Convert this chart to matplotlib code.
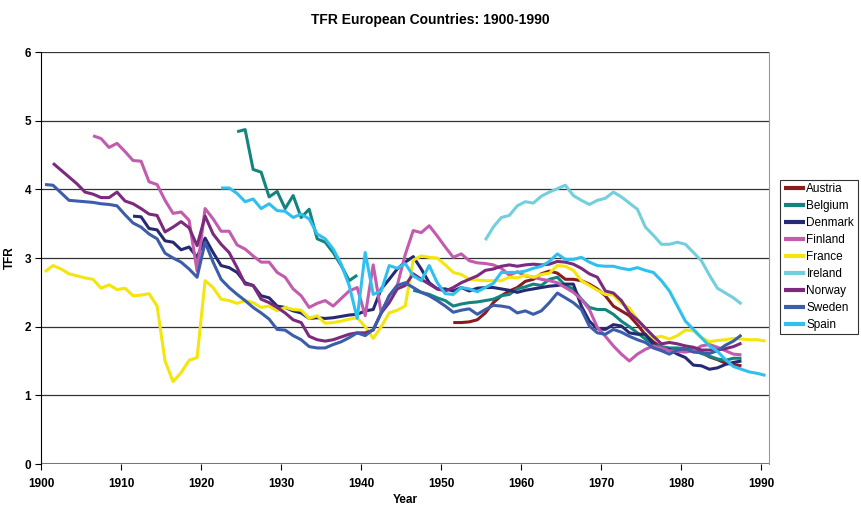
import matplotlib
matplotlib.use("Agg")
import matplotlib.pyplot as plt
import numpy as np

# TFR per country, one value per year starting at the given start year
austria_start = 1951
austria = [2.06, 2.06, 2.07, 2.10, 2.20, 2.35, 2.45, 2.52, 2.57, 2.66,
           2.69, 2.77, 2.81, 2.78, 2.69, 2.69, 2.67, 2.62, 2.55, 2.45,
           2.30, 2.23, 2.16, 2.03, 1.88, 1.78, 1.70, 1.68, 1.66, 1.66,
           1.66, 1.63, 1.56, 1.52, 1.47, 1.45, 1.43]

belgium_start = 1924
belgium = [4.84, 4.87, 4.29, 4.25, 3.89, 3.97, 3.72, 3.91, 3.59, 3.71,
           3.28, 3.23, 3.08, 2.89, 2.67, 2.75,
           None, None, None, None, None, None,
           2.53, 2.50, 2.47, 2.42, 2.38, 2.30, 2.33, 2.35, 2.36, 2.38,
           2.40, 2.45, 2.47, 2.55, 2.58, 2.62, 2.60, 2.69, 2.72, 2.60,
           2.55, 2.40, 2.28, 2.25, 2.25, 2.18, 2.08, 2.00, 1.91, 1.82,
           1.74, 1.71, 1.69, 1.69, 1.68, 1.66, 1.61, 1.57, 1.53, 1.51,
           1.54, 1.54]

denmark_start = 1911
denmark = [3.61, 3.60, 3.43, 3.41, 3.25, 3.23, 3.12, 3.16, 3.01, 3.29,
           3.08, 2.89, 2.86, 2.79, 2.64, 2.60, 2.45, 2.42, 2.30, 2.28,
           2.23, 2.20, 2.12, 2.13, 2.12, 2.13, 2.15, 2.17, 2.18, 2.23,
           2.25, 2.55, 2.69, 2.84, 2.94, 3.02, 2.84, 2.64, 2.55, 2.55,
           2.52, 2.57, 2.52, 2.56, 2.57, 2.57, 2.55, 2.53, 2.50, 2.53,
           2.55, 2.57, 2.59, 2.60, 2.62, 2.62, 2.30, 2.08, 1.97, 1.96,
           2.03, 2.01, 1.91, 1.89, 1.89, 1.75, 1.66, 1.67, 1.60, 1.55,
           1.44, 1.43, 1.38, 1.40, 1.45, 1.48, 1.50]

finland_start = 1906
finland = [4.78, 4.74, 4.61, 4.67, 4.55, 4.42, 4.41, 4.11, 4.07, 3.84,
           3.65, 3.67, 3.55, 2.81, 3.72, 3.57, 3.39, 3.39, 3.19, 3.13,
           3.03, 2.94, 2.94, 2.79, 2.72, 2.55, 2.45, 2.28, 2.34, 2.38,
           2.30, 2.41, 2.52, 2.57, 2.16, 2.90, 2.20, 2.45, 2.60, 3.05,
           3.40, 3.37, 3.47, 3.32, 3.16, 3.01, 3.06, 2.96, 2.93, 2.92,
           2.90, 2.85, 2.75, 2.80, 2.74, 2.72, 2.69, 2.67, 2.64, 2.57,
           2.50, 2.40, 2.25, 1.99, 1.86, 1.72, 1.60, 1.50, 1.60, 1.67,
           1.72, 1.69, 1.65, 1.64, 1.63, 1.65, 1.72, 1.74, 1.70, 1.65,
           1.60, 1.59]

france_start = 1900
france = [2.80, 2.89, 2.84, 2.77, 2.74, 2.71, 2.69, 2.56, 2.61, 2.54,
          2.56, 2.45, 2.46, 2.48, 2.30, 1.50, 1.20, 1.33, 1.51, 1.55,
          2.67, 2.57, 2.40, 2.38, 2.34, 2.38, 2.35, 2.28, 2.30, 2.23,
          2.28, 2.25, 2.24, 2.12, 2.16, 2.05, 2.06, 2.08, 2.11, 2.13,
          2.00, 1.83, 2.00, 2.20, 2.24, 2.30, 2.97, 3.03, 3.01, 3.00,
          2.90, 2.79, 2.76, 2.69, 2.68, 2.67, 2.67, 2.67, 2.72, 2.71,
          2.75, 2.72, 2.76, 2.78, 2.89, 2.88, 2.82, 2.67, 2.60, 2.53,
          2.47, 2.46, 2.34, 2.27, 2.10, 1.97, 1.84, 1.86, 1.82, 1.87,
          1.95, 1.94, 1.84, 1.78, 1.80, 1.81, 1.83, 1.82, 1.81, 1.81,
          1.79]

ireland_start = 1955
ireland = [3.26, 3.45, 3.59, 3.62, 3.76, 3.82, 3.80, 3.90, 3.96, 4.01,
           4.06, 3.91, 3.84, 3.78, 3.84, 3.87, 3.96, 3.89, 3.80, 3.71,
           3.45, 3.33, 3.20, 3.20, 3.23, 3.20, 3.08, 2.96, 2.75, 2.56,
           2.49, 2.42, 2.33]

norway_start = 1901
norway = [4.38, 4.28, 4.18, 4.08, 3.96, 3.93, 3.88, 3.88, 3.96, 3.83,
          3.79, 3.72, 3.64, 3.62, 3.38, 3.45, 3.53, 3.44, 3.18, 3.61,
          3.35, 3.20, 3.08, 2.86, 2.62, 2.60, 2.40, 2.35, 2.28, 2.20,
          2.10, 2.06, 1.86, 1.81, 1.79, 1.81, 1.85, 1.89, 1.91, 1.91,
          1.95, 2.20, 2.35, 2.55, 2.60, 2.77, 2.69, 2.62, 2.55, 2.52,
          2.57, 2.64, 2.69, 2.74, 2.82, 2.84, 2.88, 2.90, 2.88, 2.90,
          2.91, 2.90, 2.91, 2.95, 2.94, 2.91, 2.85, 2.77, 2.72, 2.52,
          2.49, 2.38, 2.20, 2.10, 1.98, 1.86, 1.75, 1.77, 1.75, 1.72,
          1.70, 1.66, 1.66, 1.66, 1.68, 1.71, 1.76]

sweden_start = 1900
sweden = [4.07, 4.06, 3.95, 3.84, 3.83, 3.82, 3.81, 3.79, 3.78, 3.76,
          3.63, 3.51, 3.45, 3.35, 3.28, 3.07, 3.00, 2.94, 2.84, 2.72,
          3.23, 2.94, 2.69, 2.57, 2.47, 2.38, 2.28, 2.20, 2.11, 1.96,
          1.95, 1.87, 1.81, 1.71, 1.69, 1.69, 1.74, 1.78, 1.84, 1.91,
          1.87, 1.96, 2.20, 2.45, 2.60, 2.64, 2.57, 2.50, 2.45, 2.38,
          2.30, 2.21, 2.24, 2.26, 2.18, 2.25, 2.31, 2.30, 2.28, 2.20,
          2.23, 2.18, 2.23, 2.35, 2.49, 2.42, 2.35, 2.25, 2.01, 1.91,
          1.89, 1.96, 1.92, 1.86, 1.81, 1.77, 1.69, 1.65, 1.60, 1.66,
          1.68, 1.63, 1.62, 1.61, 1.65, 1.73, 1.79, 1.88]

spain_start = 1922
spain = [4.02, 4.02, 3.94, 3.82, 3.86, 3.72, 3.79, 3.69, 3.68, 3.59,
         3.64, 3.57, 3.35, 3.28, 3.13, 2.91, 2.60, 2.12, 3.08, 2.47,
         2.52, 2.89, 2.85, 2.92, 2.74, 2.67, 2.89, 2.64, 2.48, 2.47,
         2.57, 2.55, 2.51, 2.57, 2.63, 2.79, 2.79, 2.79, 2.81, 2.85,
         2.88, 2.95, 3.06, 2.98, 2.98, 3.01, 2.94, 2.89, 2.88, 2.88,
         2.85, 2.83, 2.86, 2.82, 2.79, 2.67, 2.52, 2.30, 2.08, 1.96,
         1.84, 1.72, 1.64, 1.52, 1.42, 1.38, 1.34, 1.32, 1.29]

countries = ["Austria", "Belgium", "Denmark", "Finland", "France",
             "Ireland", "Norway", "Sweden", "Spain"]
series = [(austria_start, austria), (belgium_start, belgium),
          (denmark_start, denmark), (finland_start, finland),
          (france_start, france), (ireland_start, ireland),
          (norway_start, norway), (sweden_start, sweden),
          (spain_start, spain)]
colors = ["#8B1C1E", "#14857E", "#262A73", "#C35BAE", "#F4E60C",
          "#72CFDD", "#7B2A7E", "#3B5DAA", "#30C0EF"]

plt.rcParams["font.family"] = ["Liberation Sans Narrow", "Liberation Sans", "DejaVu Sans"]

fig = plt.figure(figsize=(8.61, 5.08), dpi=100)
ax = fig.add_axes([0.0476, 0.0866, 0.8461, 0.811])

for name, (start, vals), col in zip(countries, series, colors):
    y = np.array([np.nan if v is None else v for v in vals], dtype=float)
    # points sit at mid-year, as in the original chart
    x = np.arange(start, start + len(y)) + 0.5
    ax.plot(x, y, color=col, lw=2.2, label=name, solid_capstyle="butt")

ax.set_xlim(1900, 1991)
ax.set_ylim(0, 6)
ax.set_xticks(range(1900, 1991, 10))
ax.set_yticks(range(0, 7))
for v in range(1, 7):
    ax.axhline(v, color="#333333", lw=0.9, zorder=0)
ax.axhline(0, color="#777777", lw=2.2, zorder=0)

ax.spines["top"].set_visible(False)
ax.spines["right"].set_color("#999999")
ax.spines["left"].set_color("black")
ax.spines["bottom"].set_visible(False)
ax.tick_params(axis="both", direction="out", length=4, width=0.8,
               labelsize=8.5, pad=3)
for lab in ax.get_xticklabels() + ax.get_yticklabels():
    lab.set_fontweight("bold")
ax.tick_params(axis="x", pad=6)

ax.set_xlabel("Year", fontsize=8.5, fontweight="bold", labelpad=3)
ax.set_ylabel("TFR", fontsize=8.5, fontweight="bold", labelpad=6)
fig.text(0.5, 0.975, "TFR European Countries: 1900-1990", ha="center",
         va="top", fontsize=10, fontweight="bold")

leg = ax.legend(loc="upper left", bbox_to_anchor=(1.015, 0.69),
                frameon=True, fancybox=False, fontsize=8.5,
                handlelength=1.8, handletextpad=0.1, labelspacing=0.42,
                borderpad=0.3, borderaxespad=0)
leg.get_frame().set_edgecolor("black")
leg.get_frame().set_linewidth(0.8)
for line in leg.get_lines():
    line.set_linewidth(3)

fig.savefig("out.png", dpi=100)
